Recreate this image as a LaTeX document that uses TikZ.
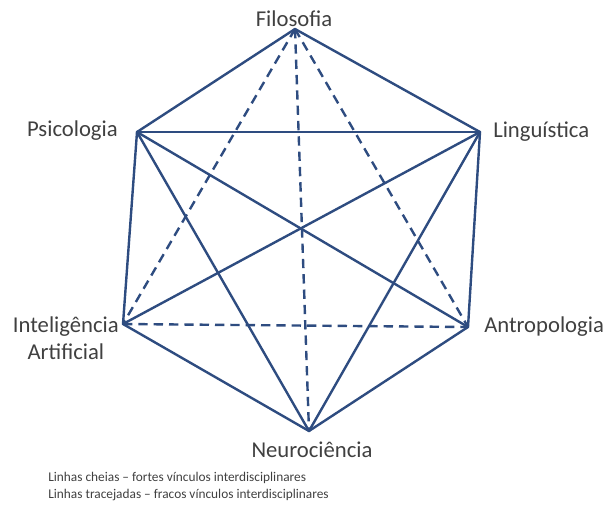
\documentclass[tikz,border=0pt]{standalone}
\usepackage{fontspec}
\setmainfont{Carlito}
\definecolor{edge}{RGB}{46,76,128}
\definecolor{txt}{RGB}{64,64,64}
\begin{document}
\begin{tikzpicture}[x=0.75pt,y=-0.75pt,
  solidedge/.style={draw=edge,line width=1.8pt,line join=round,line cap=round},
  dashededge/.style={draw=edge,line width=1.8pt,dash pattern=on 7pt off 4.5pt},
  lbl/.style={text=txt,font=\fontsize{17}{20}\selectfont,inner sep=0pt},
  legend/.style={text=txt,font=\fontsize{10}{13}\selectfont,inner sep=0pt,anchor=west}]
\useasboundingbox (0,0) rectangle (605,507);
\coordinate (F) at (295,29);
\coordinate (P) at (137,132);
\coordinate (L) at (480,132);
\coordinate (I) at (123,324);
\coordinate (A) at (468,327);
\coordinate (N) at (309,431);
% outline
\draw[solidedge] (F) -- (P) -- (I) -- (N) -- (A) -- (L) -- cycle;
% solid internal
\draw[solidedge] (P) -- (L);
\draw[solidedge] (P) -- (A);
\draw[solidedge] (P) -- (N);
\draw[solidedge] (L) -- (I);
\draw[solidedge] (L) -- (N);
% dashed
\draw[dashededge] (F) -- (I);
\draw[dashededge] (F) -- (A);
\draw[dashededge] (F) -- (N);
\draw[dashededge] (I) -- (A);
% labels
\node[lbl] (tF) at (294,19) {Filosofia};
\node[lbl,anchor=east] (tP) at (118,131) {Psicologia};
\node[lbl,anchor=west] (tL) at (493,132) {Linguística};
\node[lbl,anchor=east,align=center] (tI) at (119,338) {Inteligência\\Artificial};
\node[lbl,anchor=west] (tA) at (484,327) {Antropologia};
\node[lbl] (tN) at (312,450) {Neurociência};
\node[legend] (l1) at (48,478) {Linhas cheias – fortes vínculos interdisciplinares};
\node[legend] (l2) at (48,495) {Linhas tracejadas – fracos vínculos interdisciplinares};
\end{tikzpicture}
\end{document}
